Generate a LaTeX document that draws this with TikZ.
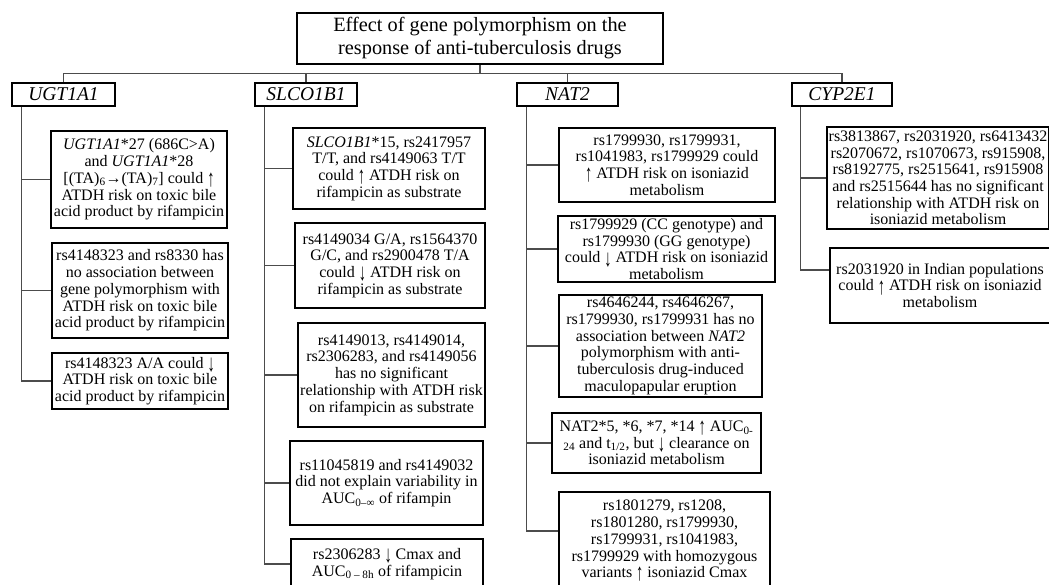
\documentclass[tikz,border=0pt]{standalone}
\usepackage{fontspec}
\setmainfont{Liberation Serif}
\usetikzlibrary{positioning}
\newcommand{\upar}{\raisebox{-0.2em}{\scalebox{0.9}[1.5]{↑}}}
\newcommand{\dnar}{\raisebox{-0.2em}{\scalebox{0.9}[1.5]{↓}}}

\begin{document}
\begin{tikzpicture}[
    x=1pt, y=-1pt,
    titlenode/.style={rectangle, draw=black, line width=1.8pt, font=\fontsize{20.3}{23}\selectfont, align=center, minimum width=366pt, minimum height=51pt, inner sep=2pt},
    gene/.style={rectangle, draw=black, line width=1.8pt, font=\fontsize{19.5}{21}\selectfont\itshape, minimum height=23pt, inner sep=1pt},
    finding/.style={rectangle, draw=black, line width=1.8pt, font=\fontsize{16}{16.7}\selectfont, align=center, inner sep=2pt},
    link/.style={draw=black!70, line width=1.2pt}
]
\useasboundingbox (0,0) rectangle (1049,585);
\fill[white] (0,0) rectangle (1049,585);
\clip (0,0) rectangle (1049,585);

% Title
\node[titlenode] (title) at (480,38.5) {Effect of gene polymorphism on the\\response of anti-tuberculosis drugs};

% Gene boxes
\node[gene, minimum width=103pt] (ugt) at (63.5,94.5) {UGT1A1};
\node[gene, minimum width=102pt] (slco) at (306,94.5) {SLCO1B1};
\node[gene, minimum width=101pt] (nat) at (567.5,94.5) {NAT2};
\node[gene, minimum width=100pt] (cyp) at (842,94.5) {CYP2E1};

% UGT1A1 findings
\node[finding, minimum width=176pt, minimum height=97pt] (u1) at (139,179.5) {\textit{UGT1A1}*27 (686C>A)\\and \textit{UGT1A1}*28\\{}[(TA)\textsubscript{6}→(TA)\textsubscript{7}] could \upar\\ATDH risk on toxic bile\\acid product by rifampicin};
\node[finding, minimum width=176pt, minimum height=95pt] (u2) at (140,290.5) {rs4148323 and rs8330 has\\no association between\\gene polymorphism with\\ATDH risk on toxic bile\\acid product by rifampicin};
\node[finding, minimum width=176pt, minimum height=56pt] (u3) at (140,381) {rs4148323 A/A could \dnar\\ATDH risk on toxic bile\\acid product by rifampicin};

% SLCO1B1 findings
\node[finding, minimum width=192pt, minimum height=81pt] (s1) at (389,168.5) {\textit{SLCO1B1}*15, rs2417957\\T/T, and rs4149063 T/T\\could \upar\ ATDH risk on\\rifampicin as substrate};
\node[finding, minimum width=190pt, minimum height=85pt] (s2) at (390,265.5) {rs4149034 G/A, rs1564370\\G/C, and rs2900478 T/A\\could \dnar\ ATDH risk on\\rifampicin as substrate};
\node[finding, minimum width=187pt, minimum height=104pt] (s3) at (391.5,375) {rs4149013, rs4149014,\\rs2306283, and rs4149056\\has no significant\\relationship with ATDH risk\\on rifampicin as substrate};
\node[finding, minimum width=193pt, minimum height=84pt] (s4) at (386.5,483) {rs11045819 and rs4149032\\did not explain variability in\\AUC\textsubscript{0–∞} of rifampin};
\node[finding, minimum width=192pt, minimum height=50pt] (s5) at (387,564) {rs2306283 \dnar\ Cmax and\\AUC\textsubscript{0 – 8h} of rifampicin};

% NAT2 findings
\node[finding, minimum width=216pt, minimum height=74pt] (n1) at (667,165) {rs1799930, rs1799931,\\rs1041983, rs1799929 could\\\upar\ ATDH risk on isoniazid\\metabolism};
\node[finding, minimum width=217pt, minimum height=66pt] (n2) at (666.5,249) {rs1799929 (CC genotype) and\\rs1799930 (GG genotype)\\could \dnar\ ATDH risk on isoniazid\\metabolism};
\node[finding, minimum width=203pt, minimum height=102pt] (n3) at (660.5,346) {rs4646244, rs4646267,\\rs1799930, rs1799931 has no\\association between \textit{NAT2}\\polymorphism with anti-\\tuberculosis drug-induced\\maculopapular eruption};
\node[finding, minimum width=209pt, minimum height=60pt] (n4) at (656.5,443) {NAT2*5, *6, *7, *14 \upar\ AUC\textsubscript{0-}\\\textsubscript{24} and t\textsubscript{1/2}, but \dnar\ clearance on\\isoniazid metabolism};
\node[finding, minimum width=211pt, minimum height=98pt] (n5) at (664.5,541) {rs1801279, rs1208,\\rs1801280, rs1799930,\\rs1799931, rs1041983,\\rs1799929 with homozygous\\variants \upar\ isoniazid Cmax};

% CYP2E1 findings
\node[finding, minimum width=220pt, minimum height=102pt] (c1) at (938,178) {rs3813867, rs2031920, rs6413432\\rs2070672, rs1070673, rs915908,\\rs8192775, rs2515641, rs915908\\and rs2515644 has no significant\\relationship with ATDH risk on\\isoniazid metabolism};
\node[finding, minimum width=220pt, minimum height=75pt] (c2) at (940,285.5) {rs2031920 in Indian populations\\could \upar\ ATDH risk on isoniazid\\metabolism};

% Connections from the title
\draw[link] (title.south) -- ++(0,9) coordinate (bus);
\draw[link] (ugt.north) |- (bus) -| (cyp.north);
\draw[link] (slco.north) -- (slco.north |- bus);
\draw[link] (nat.north) -- (nat.north |- bus);

% Spines
\coordinate (ugtsp) at ([xshift=10.5pt]ugt.south west);
\coordinate (slcosp) at ([xshift=10.5pt]slco.south west);
\coordinate (natsp) at ([xshift=10.5pt]nat.south west);
\coordinate (cypsp) at ([xshift=9pt]cyp.south west);

% Branches
\draw[link] (ugtsp) |- (u1.west);
\draw[link] (ugtsp) |- (u2.west);
\draw[link] (ugtsp) |- (u3.west);
\draw[link] (slcosp) |- (s1.west);
\draw[link] (slcosp) |- (s2.west);
\draw[link] (slcosp) |- (s3.west);
\draw[link] (slcosp) |- (s4.west);
\draw[link] (slcosp) |- (s5.west);
\draw[link] (natsp) |- (n1.west);
\draw[link] (natsp) |- (n2.west);
\draw[link] (natsp) |- (n3.west);
\draw[link] (natsp) |- (n4.west);
\draw[link] (natsp) |- ([yshift=10pt]n5.west);
\draw[link] (cypsp) |- (c1.west);
\draw[link] (cypsp) |- ([yshift=15.5pt]c2.west);

\end{tikzpicture}
\end{document}
